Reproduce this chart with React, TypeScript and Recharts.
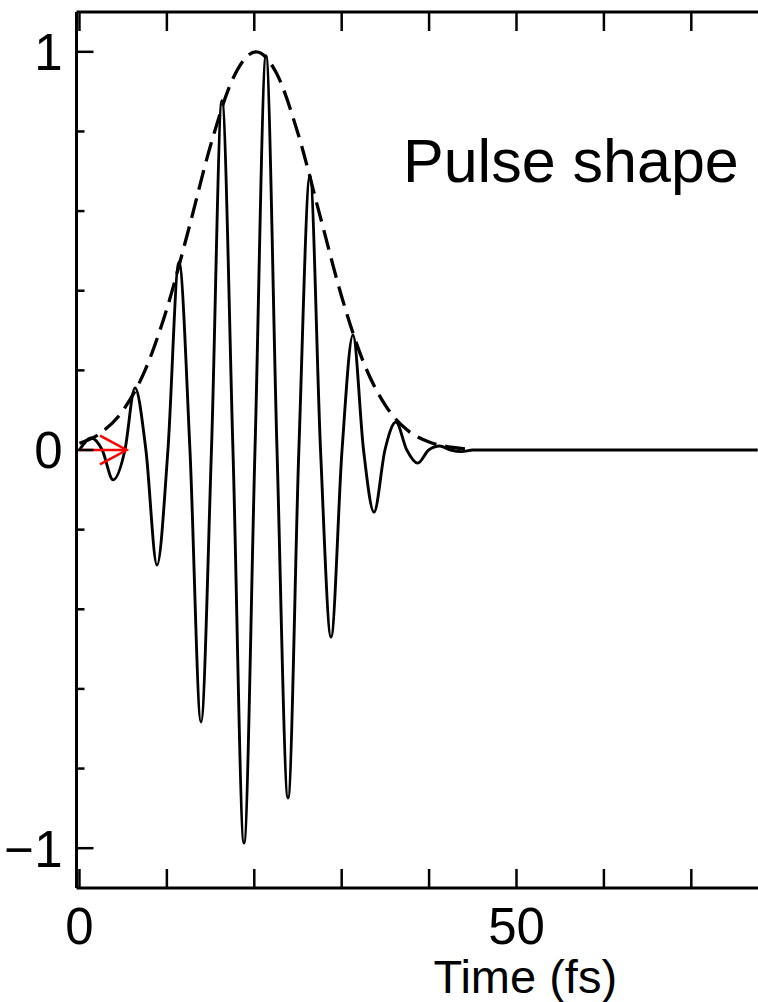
import React from "react";
import { LineChart, Line, XAxis, YAxis } from "recharts";

// carrier field (solid), read at peaks / troughs / zero crossings
const pulseTime = [0, 1.35, 2.6, 3.85, 5.2, 6.35, 7.6, 8.87, 10.12, 11.38, 12.64, 13.9, 15.1, 16.3, 17.56, 18.82, 20.08, 21.34, 22.6, 23.86, 25.1, 26.37, 27.58, 28.78, 30.04, 31.29, 32.5, 33.7, 34.95, 36.2, 37.45, 38.7, 39.95, 41.2, 42.45, 43.7, 45, 77.6];
const pulseField = [0, 0.03, 0, -0.075, 0, 0.156, 0, -0.289, 0, 0.472, 0, -0.683, 0, 0.877, 0, -0.987, 0, 0.99, 0, -0.874, 0, 0.691, 0, -0.47, 0, 0.289, 0, -0.156, 0, 0.07, 0, -0.033, 0, 0.01, 0, -0.004, 0, 0];

// envelope (dashed)
const envTime = [0, 2.5, 5, 7.5, 10, 12.5, 15, 17.5, 20.2, 22.5, 25, 27.5, 30, 32.5, 35, 37.5, 40, 42.5, 44.7];
const envValue = [0.017, 0.044, 0.1, 0.2, 0.355, 0.555, 0.765, 0.93, 1.0, 0.948, 0.795, 0.59, 0.385, 0.22, 0.112, 0.05, 0.02, 0.007, 0.002];

// red arrow at the origin
const arrowShaftX = [0, 5.4];
const arrowShaftY = [0, 0];
const arrowHeadX = [2.35, 5.4, 2.35];
const arrowHeadY = [0.036, 0, -0.036];

const xTicks = [0, 10, 20, 30, 40, 50, 60, 70];
const xTickLabels = ["0", "", "", "", "", "50", "", ""];
const yTicks = [-1, -0.8, -0.6, -0.4, -0.2, 0, 0.2, 0.4, 0.6, 0.8, 1];
const yTickLabels = ["\u22121", "", "", "", "", "0", "", "", "", "", "1"];

const toPoints = (xs: number[], ys: number[]) => xs.map((x, i) => ({ x, y: ys[i] }));

const pulseData = toPoints(pulseTime, pulseField);
const envData = toPoints(envTime, envValue);
const shaftData = toPoints(arrowShaftX, arrowShaftY);
const headData = toPoints(arrowHeadX, arrowHeadY);

const FONT = "'Liberation Sans', Arial, Helvetica, sans-serif";

const BottomTick = ({ x, y, payload }: any) => {
  const label = xTickLabels[xTicks.indexOf(payload.value)];
  return (
    <g>
      <line x1={x} x2={x} y1={y} y2={y - 19} stroke="#000" strokeWidth={2.5} />
      {label && (
        <text x={x} y={y + 56} textAnchor="middle" fontSize={51} fontFamily={FONT} fill="#000">
          {label}
        </text>
      )}
    </g>
  );
};

const TopTick = ({ x, y }: any) => (
  <line x1={x} x2={x} y1={y} y2={y + 19} stroke="#000" strokeWidth={2.5} />
);

const LeftTick = ({ x, y, payload }: any) => {
  const i = yTicks.findIndex((v) => Math.abs(v - payload.value) < 1e-6);
  const label = yTickLabels[i];
  return (
    <g>
      <line x1={x} x2={x + (label ? 17 : 8)} y1={y} y2={y} stroke="#000" strokeWidth={2.5} />
      {label && (
        <text x={x - 14} y={y} dy="0.36em" textAnchor="end" fontSize={51} fontFamily={FONT} fill="#000">
          {label}
        </text>
      )}
    </g>
  );
};

const xDomain = [-0.34, 77.63];

export default function App() {
  return (
    <div style={{ position: "absolute", left: 0, top: 0, width: 758, height: 1002, background: "#fff" }}>
      <LineChart width={758} height={1002} margin={{ top: 10, right: 0, bottom: 0, left: 0 }}>
        <XAxis
          dataKey="x"
          type="number"
          domain={xDomain}
          allowDataOverflow
          ticks={xTicks}
          interval={0}
          height={114}
          tickSize={0}
          tickMargin={0}
          tick={<BottomTick />}
          axisLine={{ stroke: "#000", strokeWidth: 3 }}
          label={{ value: "Time (fs)", position: "insideBottom", dx: 108, offset: 9, fontSize: 47, fontFamily: FONT, fill: "#000" }}
        />
        <XAxis
          xAxisId="top"
          orientation="top"
          dataKey="x"
          type="number"
          domain={xDomain}
          allowDataOverflow
          ticks={xTicks}
          interval={0}
          height={2}
          tickSize={0}
          tickMargin={0}
          tick={<TopTick />}
          axisLine={{ stroke: "#000", strokeWidth: 3 }}
        />
        <YAxis
          type="number"
          domain={[-1.1, 1.1]}
          allowDataOverflow
          ticks={yTicks}
          interval={0}
          width={76.5}
          tickSize={0}
          tickMargin={0}
          tick={<LeftTick />}
          axisLine={{ stroke: "#000", strokeWidth: 3 }}
        />
        <Line
          xAxisId="top"
          data={envData}
          dataKey="y"
          type="monotone"
          stroke="#000"
          strokeWidth={3.3}
          strokeDasharray="20 9"
          dot={false}
          isAnimationActive={false}
        />
        <Line
          data={pulseData}
          dataKey="y"
          type="monotone"
          stroke="#000"
          strokeWidth={2.9}
          dot={false}
          isAnimationActive={false}
        />
        <Line
          data={shaftData}
          dataKey="y"
          type="linear"
          stroke="#ff0000"
          strokeWidth={2.5}
          dot={false}
          isAnimationActive={false}
        />
        <Line
          data={headData}
          dataKey="y"
          type="linear"
          stroke="#ff0000"
          strokeWidth={2.5}
          dot={false}
          isAnimationActive={false}
        />
      </LineChart>
      <svg width={758} height={1002} style={{ position: "absolute", left: 0, top: 0, pointerEvents: "none" }}>
        <text x={403} y={182} fontSize={61} fontFamily={FONT} fill="#000">
          Pulse shape
        </text>
      </svg>
    </div>
  );
}
